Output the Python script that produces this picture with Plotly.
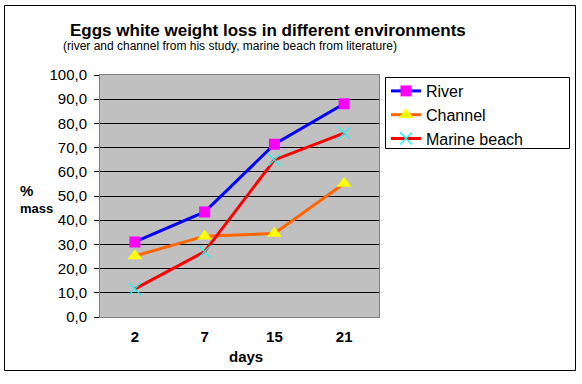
import plotly.graph_objects as go

days = ["2", "7", "15", "21"]
river = [31.0, 43.4, 71.4, 88.1]
channel = [25.2, 33.4, 34.5, 55.2]
marine_beach = [11.6, 27.0, 64.9, 76.0]
y_tick_vals = [0, 10, 20, 30, 40, 50, 60, 70, 80, 90, 100]
y_tick_text = ["0,0", "10,0", "20,0", "30,0", "40,0", "50,0", "60,0", "70,0", "80,0", "90,0", "100,0"]

FONT = "Liberation Sans, Arial, sans-serif"

# plot area in pixels: x 100..379, y 75..317
PL, PR, PT, PB = 100, 379, 75, 317
W, H = 582, 384


def px(x):
    return (x - PL) / (PR - PL)


def py(y):
    return (PB - y) / (PB - PT)


fig = go.Figure()
fig.add_trace(go.Scatter(
    x=days, y=river, name="River", mode="lines+markers",
    line=dict(color="#0000FF", width=3),
    marker=dict(symbol="square", size=11, color="#FF00FF", line=dict(width=0)),
))
fig.add_trace(go.Scatter(
    x=days, y=channel, name="Channel", mode="lines+markers",
    line=dict(color="#FF6600", width=3),
    marker=dict(symbol="triangle-up", size=13, color="#FFFF00", line=dict(width=0)),
))
fig.add_trace(go.Scatter(
    x=days, y=marine_beach, name="Marine beach", mode="lines+markers",
    line=dict(color="#FF0000", width=3),
    marker=dict(symbol="x-thin", size=12, color="#00FFFF", line=dict(color="#00FFFF", width=1.2)),
))

fig.update_layout(
    width=W, height=H,
    margin=dict(l=PL, r=W - PR, t=PT, b=H - PB),
    paper_bgcolor="white",
    plot_bgcolor="#C0C0C0",
    font=dict(family=FONT, color="black"),
    showlegend=True,
    legend=dict(
        x=px(386), y=py(74), xanchor="left", yanchor="top",
        bgcolor="rgba(0,0,0,0)", borderwidth=0,
        font=dict(size=16, family=FONT, color="black"),
        itemwidth=30,
    ),
    xaxis=dict(
        type="category", range=[-0.5, 3.5],
        showgrid=False, zeroline=False,
        showline=True, mirror=True, linecolor="#808080", linewidth=1,
        ticks="", ticklabelstandoff=6,
        tickfont=dict(size=15, family=FONT, color="black", weight="bold"),
    ),
    yaxis=dict(
        range=[0, 100], tickvals=y_tick_vals, ticktext=y_tick_text,
        showgrid=True, gridcolor="black", gridwidth=1, zeroline=False,
        showline=True, mirror=True, linecolor="#808080", linewidth=1,
        ticks="outside", ticklen=5, tickcolor="black", ticklabelstandoff=4,
        tickfont=dict(size=15, family=FONT, color="black"),
    ),
)

# chart outer border
fig.add_shape(type="rect", xref="paper", yref="paper",
              x0=px(4.5), x1=px(575.5), y0=py(370.5), y1=py(5.5),
              line=dict(color="black", width=1), fillcolor="rgba(0,0,0,0)", layer="below")
# legend box
fig.add_shape(type="rect", xref="paper", yref="paper",
              x0=px(385.5), x1=px(569.5), y0=py(148.5), y1=py(77.5),
              line=dict(color="black", width=1), fillcolor="white", layer="below")

fig.add_annotation(text="<b>Eggs white weight loss in different environments</b>",
                   xref="paper", yref="paper", x=px(268), y=py(30),
                   xanchor="center", yanchor="middle", showarrow=False,
                   font=dict(size=17, family=FONT, color="black"))
fig.add_annotation(text="(river and channel from his study, marine beach from literature)",
                   xref="paper", yref="paper", x=px(230), y=py(46),
                   xanchor="center", yanchor="middle", showarrow=False,
                   font=dict(size=12, family=FONT, color="black"))
fig.add_annotation(text="<b>%</b>",
                   xref="paper", yref="paper", x=px(18), y=py(190),
                   xanchor="left", yanchor="middle", showarrow=False,
                   font=dict(size=15, family=FONT, color="black"))
fig.add_annotation(text="<b>mass</b>",
                   xref="paper", yref="paper", x=px(18), y=py(209),
                   xanchor="left", yanchor="middle", showarrow=False,
                   font=dict(size=13, family=FONT, color="black"))
fig.add_annotation(text="<b>days</b>",
                   xref="paper", yref="paper", x=px(246), y=py(356),
                   xanchor="center", yanchor="middle", showarrow=False,
                   font=dict(size=15, family=FONT, color="black"))

fig.write_html("out.html", config={"displayModeBar": False},
               post_script="document.body.style.margin='0';")
